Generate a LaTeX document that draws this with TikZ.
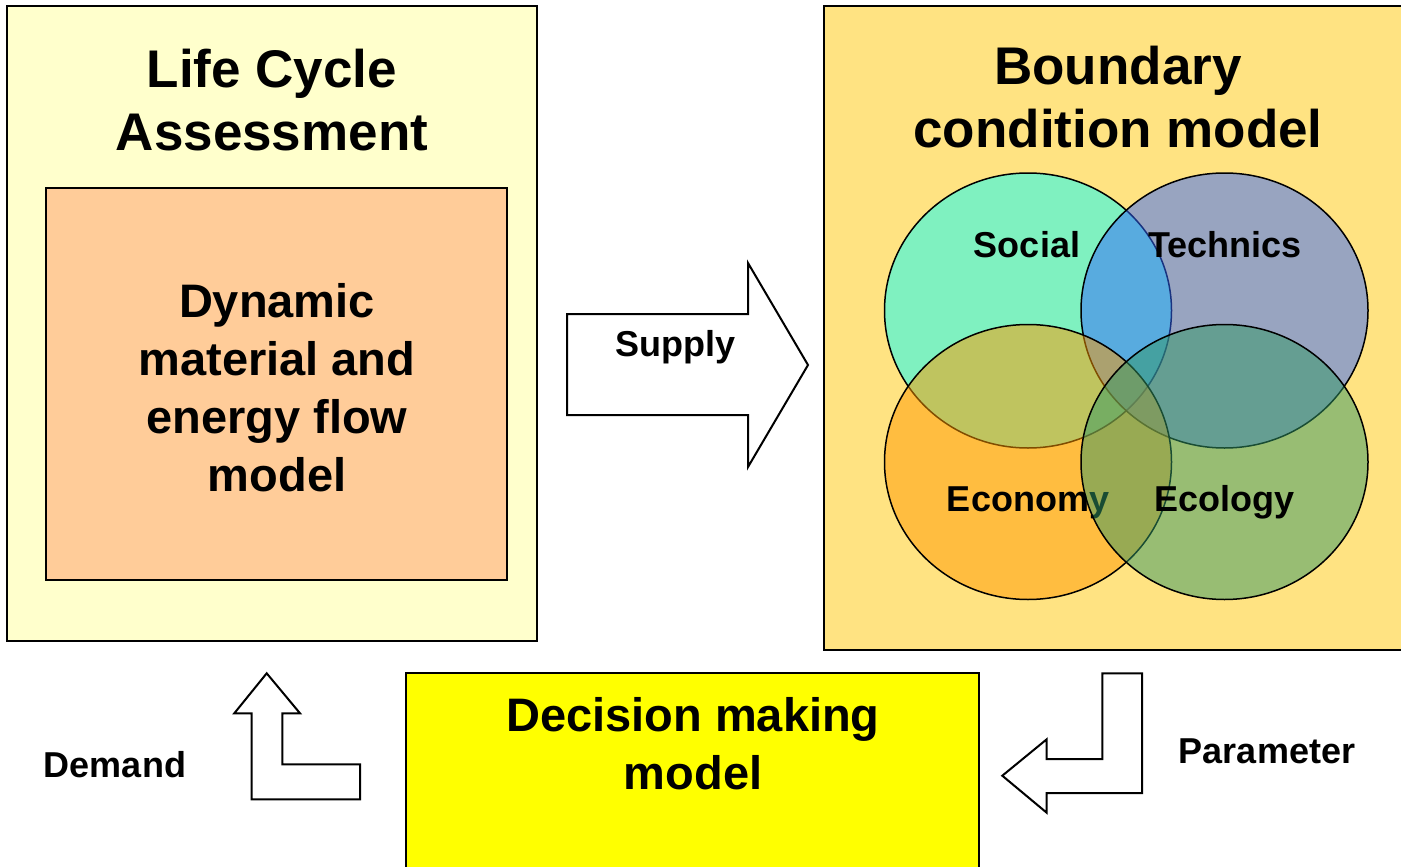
\documentclass[tikz,border=0pt]{standalone}
\usepackage{fontspec}
\setmainfont{Liberation Sans}
\usetikzlibrary{shapes.geometric}

\definecolor{lcafill}{RGB}{255,255,204}
\definecolor{flowfill}{RGB}{255,204,153}
\definecolor{bcfill}{RGB}{255,227,130}
\definecolor{decfill}{RGB}{255,255,0}
\definecolor{socialc}{RGB}{0,255,255}
\definecolor{technicsc}{RGB}{51,102,255}
\definecolor{economyc}{RGB}{255,153,0}
\definecolor{ecologyc}{RGB}{51,153,102}

\begin{document}
\begin{tikzpicture}[x=1pt, y=-1pt,
  box/.style={draw=black, line width=2pt, anchor=north west, inner sep=0pt, outer sep=0pt},
  venn/.style={ellipse, draw=black, line width=1.5pt, fill opacity=0.5,
               minimum width=287pt, minimum height=275pt, inner sep=0pt},
  blockarrow/.style={draw=black, fill=white, line width=2pt, line join=miter},
  % multi-line titles are placed by the baseline of their last line
  bigtitle/.style={font=\fontsize{53}{63}\selectfont\bfseries, align=center, anchor=base, inner sep=0pt},
  midtitle/.style={font=\fontsize{47}{58}\selectfont\bfseries, align=center, anchor=base, inner sep=0pt},
  label/.style={font=\fontsize{36}{43}\selectfont\bfseries, anchor=base, inner sep=0pt}
]
\useasboundingbox (0,0) rectangle (1401,867);
\clip (0,0) rectangle (1401,867);
\fill[white] (0,0) rectangle (1401,867);

% Life cycle assessment with the flow model inside
\node[box, fill=lcafill, minimum width=530pt, minimum height=635pt] (lca) at (7,6) {};
\node[bigtitle] (lcatitle) at (272,150) {Life Cycle\\Assessment};
\node[box, fill=flowfill, minimum width=461pt, minimum height=392pt] (flow) at (46,188) {};
\node[midtitle] (flowtitle) at (277,491) {Dynamic\\material and\\energy flow\\model};

% Boundary condition model with its four fields
\node[box, fill=bcfill, minimum width=600pt, minimum height=644pt] (bc) at (824,6) {};
\node[bigtitle] (bctitle) at (1118,147) {Boundary\\condition model};

\node[venn, fill=socialc] (social) at (1028,310.5) {};
\node[label] (sociallbl) at (1027,257) {Social};
\node[venn, fill=technicsc] (technics) at (1224.5,310.5) {};
\node[label] (technicslbl) at (1225,257) {Technics};
\node[venn, fill=economyc] (economy) at (1028,462) {};
\node[label] (economylbl) at (1028,511) {Economy};
\node[venn, fill=ecologyc] (ecology) at (1224.5,462) {};
\node[label] (ecologylbl) at (1224.5,511) {Ecology};

% Decision making model
\node[box, fill=decfill, minimum width=573pt, minimum height=210pt] (dec) at (406,673) {};
\node[midtitle] (dectitle) at (693,789) {Decision making\\model};

% Supply arrow
\draw[blockarrow] (567,314) -- (748,314) -- (748,263) -- (808,365)
  -- (748,467) -- (748,415) -- (567,415) -- cycle;
\node[label] (supply) at (675,356) {Supply};

% Demand arrow
\draw[blockarrow] (266.7,673.3) -- (300,713.3) -- (282.3,713.3) -- (282.3,764.3)
  -- (360,764.3) -- (360,799.3) -- (251.7,799.3) -- (251.7,713.3) -- (234.3,713.3) -- cycle;
\node[label] (demand) at (115,777) {Demand};

% Parameter arrow
\draw[blockarrow] (1002.3,775.7) -- (1046.7,739.3) -- (1046.7,759) -- (1102.3,759)
  -- (1102.3,673.3) -- (1142,673.3) -- (1142,793) -- (1046.7,793) -- (1046.7,812.7) -- cycle;
\node[label] (parameter) at (1267,763) {Parameter};
\end{tikzpicture}
\end{document}
